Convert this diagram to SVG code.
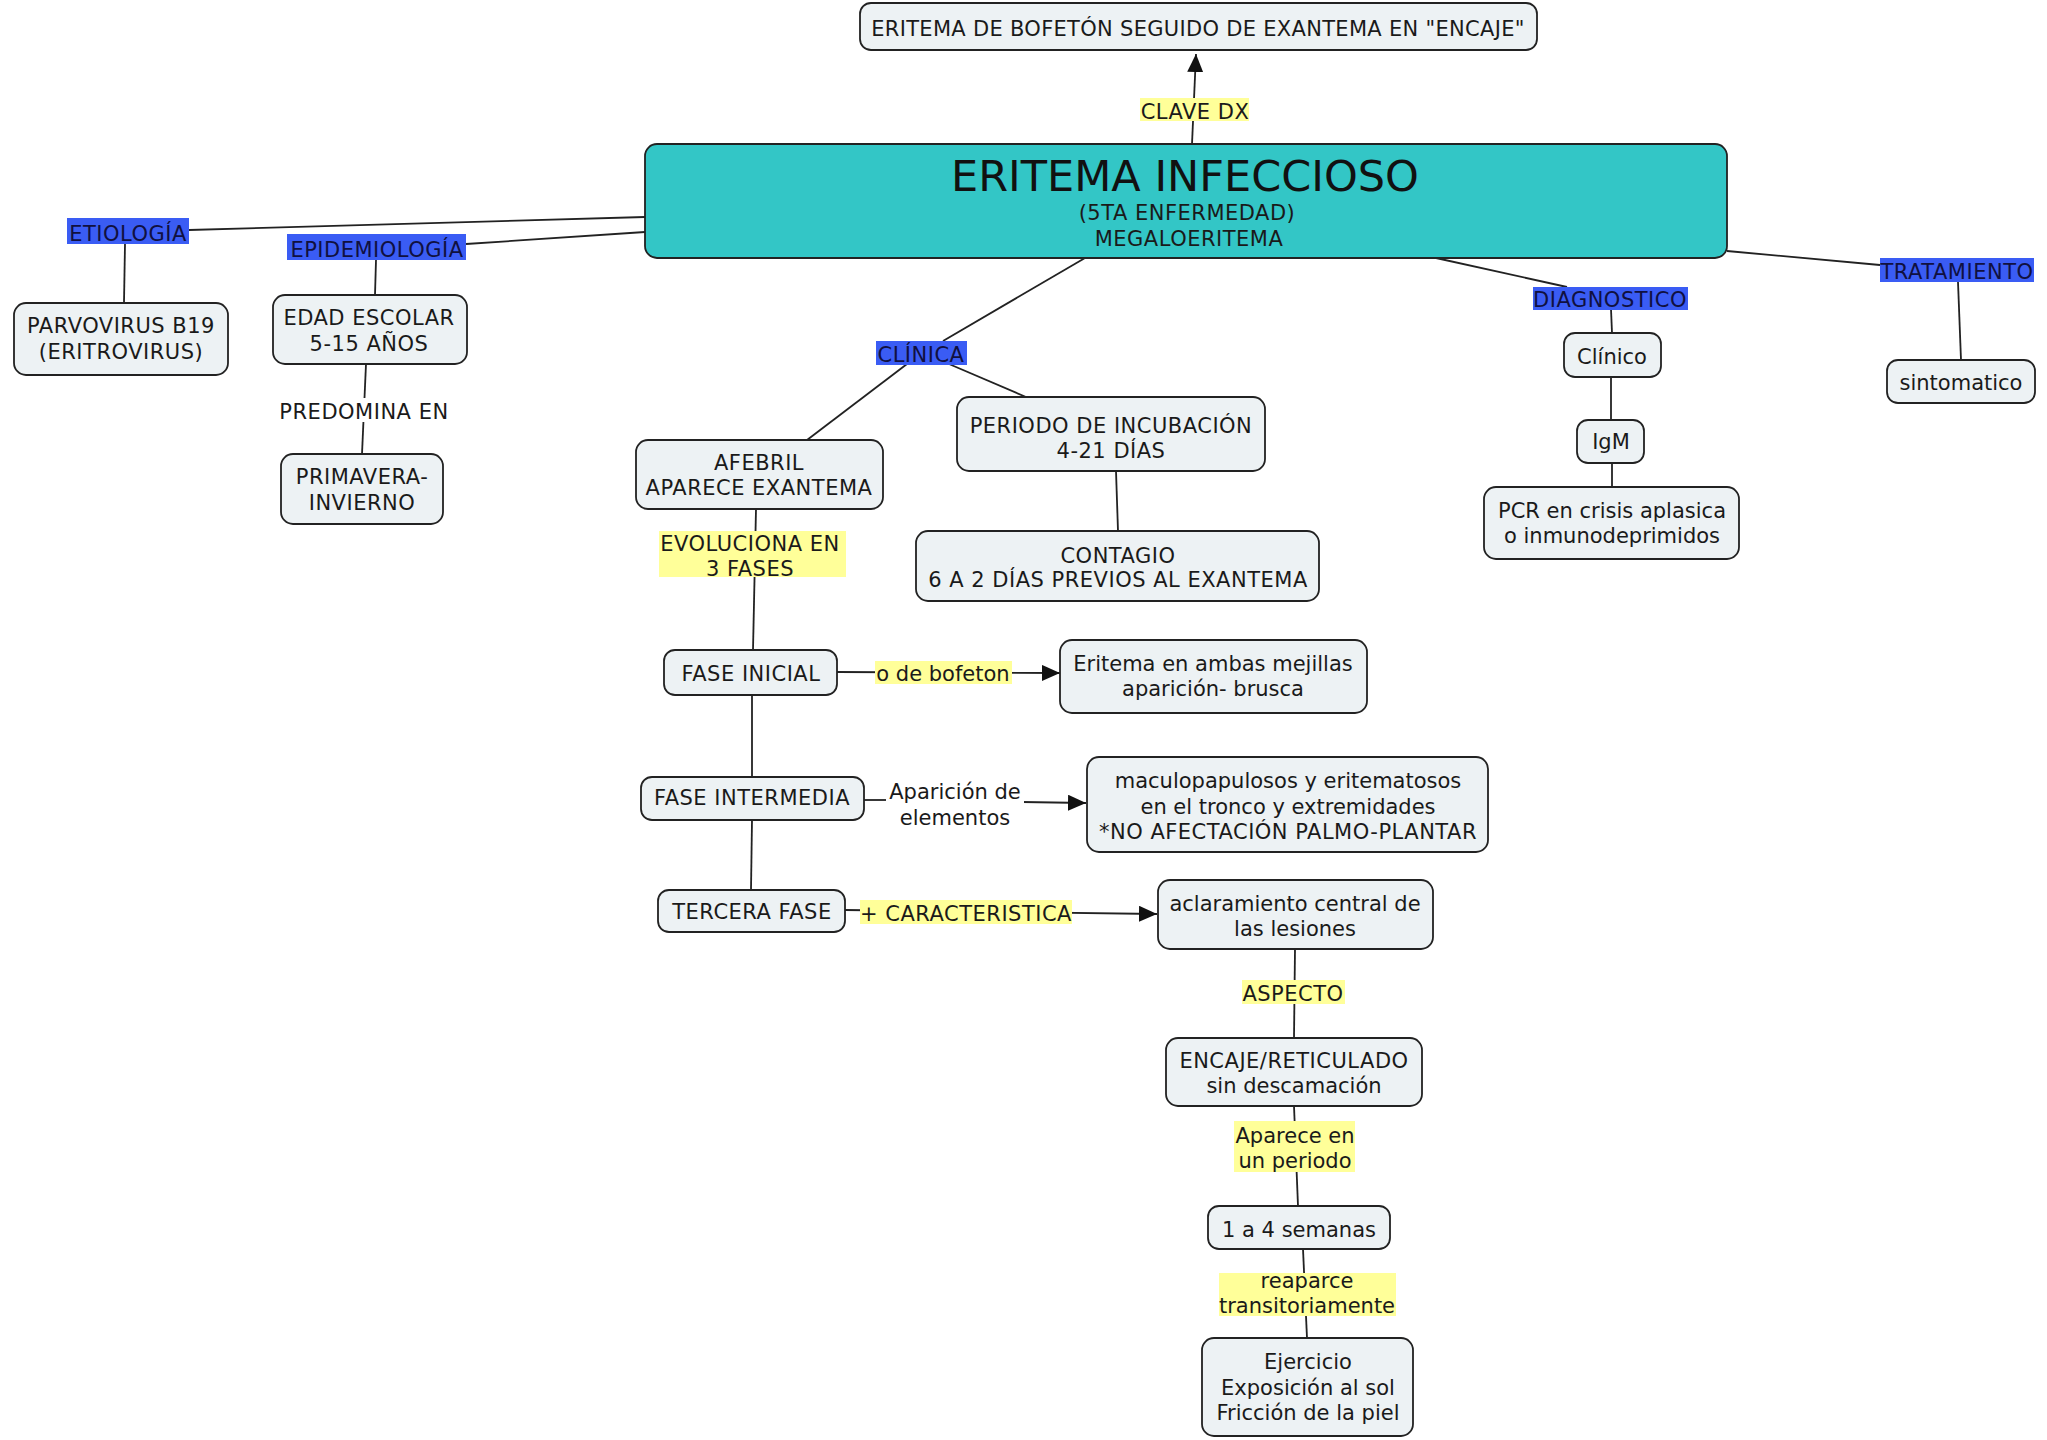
<svg xmlns="http://www.w3.org/2000/svg" width="2047" height="1440" viewBox="0 0 2047 1440">
  <defs>
    <marker id="arrow" viewBox="0 0 18 16" refX="18" refY="8" markerWidth="18" markerHeight="16" markerUnits="userSpaceOnUse" orient="auto">
      <path d="M0,0 L18,8 L0,16 Z" fill="#111"/>
    </marker>
  </defs>
  <style>
    text { font-family: "DejaVu Sans", Verdana, sans-serif; font-size: 21px; fill: #1a1a1a; text-anchor: middle; transform: translateY(1.5px); }
    .uc { letter-spacing: 0.5px; }
    .node rect { fill: #edf2f4; stroke: #222; stroke-width: 1.8; }
    .main rect { fill: #33c6c6; stroke: #222; stroke-width: 1.8; }
    .main .title { font-size: 43px; fill: #111; letter-spacing: 0; }
    .cat rect { fill: #3a5cf4; }
    .cat text { fill: #101040; }
    .link rect { fill: #ffff99; }
    .plain rect { fill: #ffffff; }
    #connectors line, #connectors polyline { stroke: #222; stroke-width: 1.8; fill: none; }
    .arrow { marker-end: url(#arrow); }
  </style>
  <rect width="2047" height="1440" fill="#ffffff"/>

  <!-- connecting lines, drawn under the nodes -->
  <g id="connectors">
    <line x1="1192" y1="144" x2="1196" y2="54" class="arrow"/>
    <line x1="189" y1="230" x2="645" y2="217"/>
    <line x1="466" y1="244" x2="645" y2="232"/>
    <line x1="125" y1="244" x2="124" y2="303"/>
    <line x1="376" y1="260" x2="375" y2="295"/>
    <line x1="366" y1="364" x2="362" y2="454"/>
    <line x1="1085" y1="258" x2="943" y2="341"/>
    <line x1="907" y1="364" x2="807" y2="440"/>
    <line x1="949" y1="364" x2="1026" y2="397"/>
    <line x1="1116" y1="471" x2="1118" y2="531"/>
    <line x1="756" y1="509" x2="753" y2="650"/>
    <line x1="837" y1="672" x2="1060" y2="673" class="arrow"/>
    <line x1="752" y1="695" x2="752" y2="777"/>
    <polyline points="864,800 890,800"/>
    <line x1="1022" y1="802" x2="1086" y2="803" class="arrow"/>
    <line x1="752" y1="820" x2="751" y2="890"/>
    <line x1="845" y1="910" x2="1157" y2="914" class="arrow"/>
    <line x1="1295" y1="949" x2="1294" y2="1038"/>
    <line x1="1294" y1="1106" x2="1298" y2="1206"/>
    <line x1="1303" y1="1249" x2="1307" y2="1338"/>
    <line x1="1436" y1="258" x2="1567" y2="287"/>
    <line x1="1611" y1="309" x2="1612" y2="333"/>
    <line x1="1611" y1="377" x2="1611" y2="420"/>
    <line x1="1612" y1="463" x2="1612" y2="487"/>
    <line x1="1727" y1="251" x2="1880" y2="265"/>
    <line x1="1958" y1="282" x2="1961" y2="360"/>
  </g>

  <!-- central concept -->
  <g id="eritema-infeccioso" class="main">
    <rect x="645" y="144" width="1082" height="114" rx="12"/>
    <text class="title" x="1185" y="189">ERITEMA INFECCIOSO</text>
    <text class="uc" x="1187" y="218">(5TA ENFERMEDAD)</text>
    <text class="uc" x="1189" y="244">MEGALOERITEMA</text>
  </g>

  <g id="clave-dx-texto" class="node">
    <rect x="860" y="3" width="677" height="47" rx="11"/>
    <text x="1198" y="34" style="letter-spacing:0.3px">ERITEMA DE BOFETÓN SEGUIDO DE EXANTEMA EN "ENCAJE"</text>
  </g>
  <g id="lbl-clave-dx" class="link">
    <rect x="1140" y="98" width="109" height="23"/>
    <text class="uc" x="1195" y="117">CLAVE DX</text>
  </g>

  <!-- etiologia / epidemiologia -->
  <g id="lbl-etiologia" class="cat">
    <rect x="67" y="218" width="122" height="26"/>
    <text class="uc" x="128" y="239">ETIOLOGÍA</text>
  </g>
  <g id="lbl-epidemiologia" class="cat">
    <rect x="287" y="234" width="179" height="26"/>
    <text class="uc" x="377" y="255">EPIDEMIOLOGÍA</text>
  </g>
  <g id="parvovirus" class="node">
    <rect x="14" y="303" width="214" height="72" rx="12"/>
    <text class="uc" x="121" y="331">PARVOVIRUS B19</text>
    <text class="uc" x="121" y="357">(ERITROVIRUS)</text>
  </g>
  <g id="edad-escolar" class="node">
    <rect x="273" y="295" width="194" height="69" rx="12"/>
    <text class="uc" x="369" y="323">EDAD ESCOLAR</text>
    <text class="uc" x="369" y="349">5-15 AÑOS</text>
  </g>
  <g id="lbl-predomina" class="plain">
    <rect x="280" y="398" width="168" height="24"/>
    <text class="uc" x="364" y="417">PREDOMINA EN</text>
  </g>
  <g id="primavera" class="node">
    <rect x="281" y="454" width="162" height="70" rx="12"/>
    <text class="uc" x="362" y="482">PRIMAVERA-</text>
    <text class="uc" x="362" y="508">INVIERNO</text>
  </g>

  <!-- clinica -->
  <g id="lbl-clinica" class="cat">
    <rect x="876" y="341" width="91" height="24"/>
    <text class="uc" x="921" y="360">CLÍNICA</text>
  </g>
  <g id="afebril" class="node">
    <rect x="636" y="440" width="247" height="69" rx="12"/>
    <text class="uc" x="759" y="468">AFEBRIL</text>
    <text class="uc" x="759" y="493">APARECE EXANTEMA</text>
  </g>
  <g id="incubacion" class="node">
    <rect x="957" y="397" width="308" height="74" rx="12"/>
    <text class="uc" x="1111" y="431">PERIODO DE INCUBACIÓN</text>
    <text class="uc" x="1111" y="456">4-21 DÍAS</text>
  </g>
  <g id="contagio" class="node">
    <rect x="916" y="531" width="403" height="70" rx="12"/>
    <text class="uc" x="1118" y="561">CONTAGIO</text>
    <text class="uc" x="1118" y="585">6 A 2 DÍAS PREVIOS AL EXANTEMA</text>
  </g>
  <g id="lbl-evoluciona" class="link">
    <rect x="659" y="531" width="187" height="46"/>
    <text class="uc" x="750" y="549">EVOLUCIONA EN</text>
    <text class="uc" x="750" y="574">3 FASES</text>
  </g>

  <g id="fase-inicial" class="node">
    <rect x="664" y="650" width="173" height="45" rx="11"/>
    <text class="uc" x="751" y="679">FASE INICIAL</text>
  </g>
  <g id="lbl-bofeton" class="link">
    <rect x="875" y="661" width="137" height="23"/>
    <text x="943" y="679">o de bofeton</text>
  </g>
  <g id="eritema-mejillas" class="node">
    <rect x="1060" y="640" width="307" height="73" rx="12"/>
    <text x="1213" y="669">Eritema en ambas mejillas</text>
    <text x="1213" y="694">aparición- brusca</text>
  </g>

  <g id="fase-intermedia" class="node">
    <rect x="641" y="777" width="223" height="43" rx="11"/>
    <text class="uc" x="752" y="803">FASE INTERMEDIA</text>
  </g>
  <g id="lbl-aparicion" class="plain">
    <rect x="886" y="778" width="138" height="50"/>
    <text x="955" y="797">Aparición de</text>
    <text x="955" y="823">elementos</text>
  </g>
  <g id="maculopapulosos" class="node">
    <rect x="1087" y="757" width="401" height="95" rx="12"/>
    <text x="1288" y="786">maculopapulosos y eritematosos</text>
    <text x="1288" y="812">en el tronco y extremidades</text>
    <text class="uc" x="1288" y="837">*NO AFECTACIÓN PALMO-PLANTAR</text>
  </g>

  <g id="tercera-fase" class="node">
    <rect x="658" y="890" width="187" height="42" rx="11"/>
    <text class="uc" x="752" y="917">TERCERA FASE</text>
  </g>
  <g id="lbl-caracteristica" class="link">
    <rect x="860" y="900" width="212" height="24"/>
    <text class="uc" x="966" y="919">+ CARACTERISTICA</text>
  </g>
  <g id="aclaramiento" class="node">
    <rect x="1158" y="880" width="275" height="69" rx="12"/>
    <text x="1295" y="909">aclaramiento central de</text>
    <text x="1295" y="934">las lesiones</text>
  </g>
  <g id="lbl-aspecto" class="link">
    <rect x="1242" y="980" width="103" height="24"/>
    <text class="uc" x="1293" y="999">ASPECTO</text>
  </g>
  <g id="encaje" class="node">
    <rect x="1166" y="1038" width="256" height="68" rx="12"/>
    <text class="uc" x="1294" y="1066">ENCAJE/RETICULADO</text>
    <text x="1294" y="1091">sin descamación</text>
  </g>
  <g id="lbl-aparece" class="link">
    <rect x="1234" y="1121" width="121" height="51"/>
    <text x="1295" y="1141">Aparece en</text>
    <text x="1295" y="1166">un periodo</text>
  </g>
  <g id="semanas" class="node">
    <rect x="1208" y="1206" width="182" height="43" rx="11"/>
    <text x="1299" y="1235">1 a 4 semanas</text>
  </g>
  <g id="lbl-reaparece" class="link">
    <rect x="1219" y="1273" width="177" height="43"/>
    <text x="1307" y="1286">reaparce</text>
    <text x="1307" y="1311">transitoriamente</text>
  </g>
  <g id="desencadenantes" class="node">
    <rect x="1202" y="1338" width="211" height="98" rx="12"/>
    <text x="1308" y="1367">Ejercicio</text>
    <text x="1308" y="1393">Exposición al sol</text>
    <text x="1308" y="1418">Fricción de la piel</text>
  </g>

  <!-- diagnostico -->
  <g id="lbl-diagnostico" class="cat">
    <rect x="1533" y="287" width="155" height="23"/>
    <text class="uc" x="1610" y="305">DIAGNOSTICO</text>
  </g>
  <g id="clinico" class="node">
    <rect x="1564" y="333" width="97" height="44" rx="11"/>
    <text x="1612" y="362">Clínico</text>
  </g>
  <g id="igm" class="node">
    <rect x="1577" y="420" width="67" height="43" rx="11"/>
    <text x="1611" y="447">IgM</text>
  </g>
  <g id="pcr" class="node">
    <rect x="1484" y="487" width="255" height="72" rx="12"/>
    <text x="1612" y="516">PCR en crisis aplasica</text>
    <text x="1612" y="541">o inmunodeprimidos</text>
  </g>

  <!-- tratamiento -->
  <g id="lbl-tratamiento" class="cat">
    <rect x="1880" y="258" width="154" height="24"/>
    <text class="uc" x="1957" y="277">TRATAMIENTO</text>
  </g>
  <g id="sintomatico" class="node">
    <rect x="1887" y="360" width="148" height="43" rx="11"/>
    <text x="1961" y="388">sintomatico</text>
  </g>
</svg>
